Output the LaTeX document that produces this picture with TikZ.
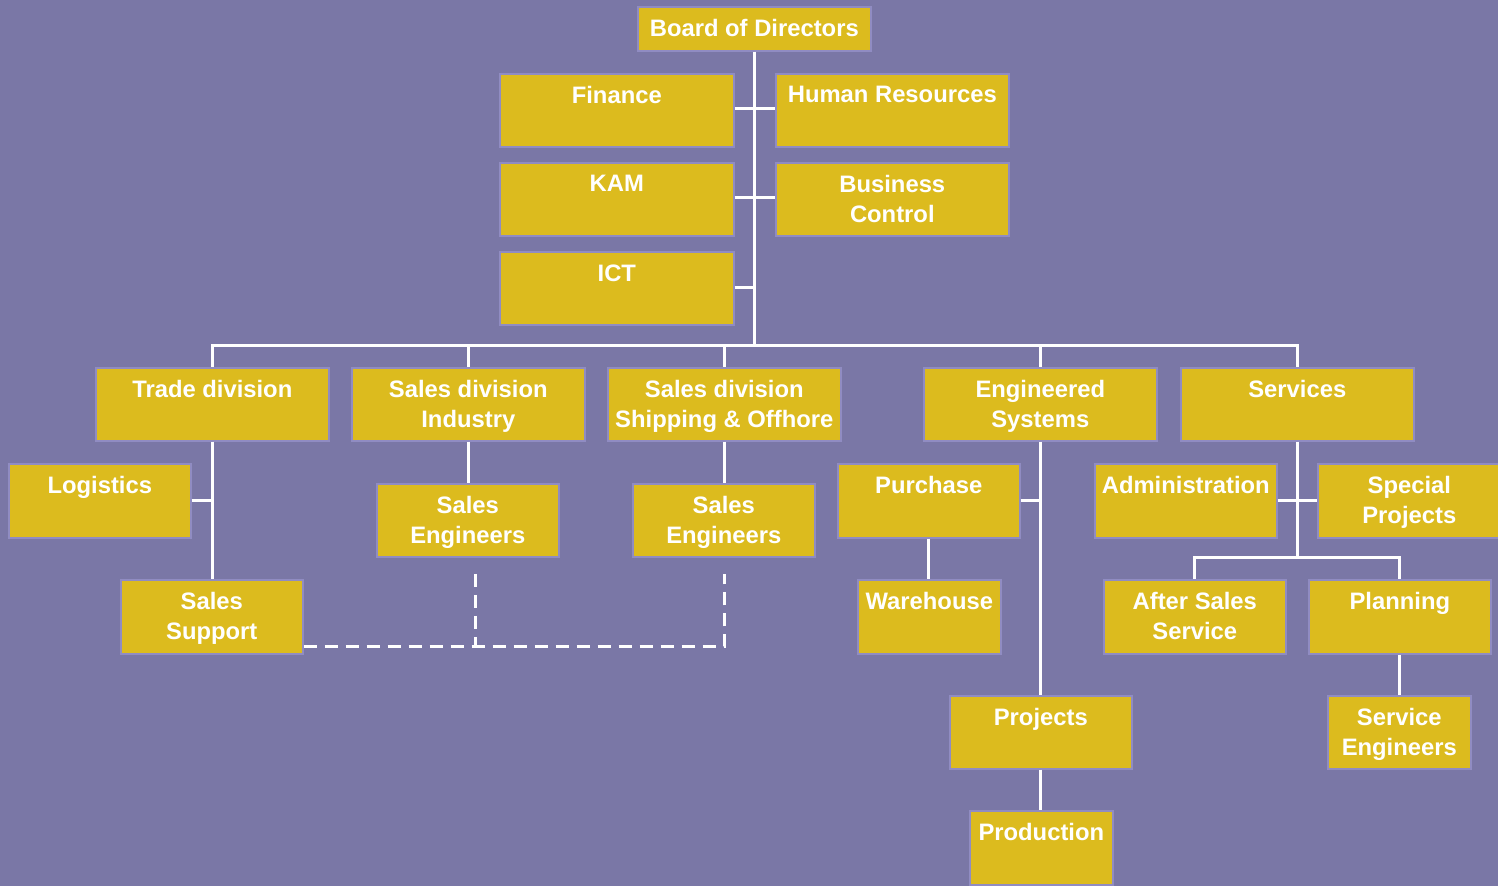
\documentclass[tikz,border=0pt]{standalone}
\usepackage{fontspec}
\setmainfont{Liberation Sans}
\definecolor{bgc}{HTML}{7A77A6}
\definecolor{boxc}{HTML}{DCBB1E}
\definecolor{edgec}{HTML}{908CC2}
\tikzset{
  box/.style={draw=edgec, line width=0.8pt, fill=boxc, inner sep=0pt, anchor=north west},
  lbl/.style={text=white, font=\fontsize{11.9}{15}\selectfont\bfseries, align=center, inner sep=0pt, anchor=north},
  link/.style={draw=white, line width=1.5pt},
  dlink/.style={draw=white, line width=1.5pt, dash pattern=on 6.5pt off 4pt}
}
\newcommand\orgbox[6]{%
  \node[box, minimum width={(#4-#2)*0.5pt}, minimum height={(#5-#3)*0.5pt}] (#1) at (#2,#3) {};
  \node[lbl] (#1-t) at ([yshift=-6.6pt]#1.north) {#6};}
\begin{document}
\begin{tikzpicture}[x=0.5pt, y=-0.5pt]
\fill[bgc] (0,0) rectangle (1498,886);
\useasboundingbox (0,0) rectangle (1498,886);
\coordinate (busc) at (753,346);
\coordinate (j1) at (753,109);
\coordinate (j2) at (753,198);
\coordinate (j3) at (753,288);
\orgbox{board}{637}{6}{870}{50}{Board of Directors}
\orgbox{fin}{499}{73}{733}{146}{Finance}
\orgbox{hr}{775}{73}{1008}{146}{Human Resources}
\orgbox{kam}{499}{162}{733}{235}{KAM}
\orgbox{bc}{775}{162}{1008}{235}{Business\\Control}
\orgbox{ict}{499}{251}{733}{324}{ICT}
\orgbox{trade}{95}{367}{328}{440}{Trade division}
\orgbox{sdi}{351}{367}{584}{440}{Sales division\\Industry}
\orgbox{sds}{607}{367}{840}{440}{Sales division\\Shipping \& Offhore}
\orgbox{eng}{923}{367}{1156}{440}{Engineered\\Systems}
\orgbox{serv}{1180}{367}{1413}{440}{Services}
\orgbox{log}{8}{463}{190}{537}{Logistics}
\orgbox{se1}{376}{483}{558}{556}{Sales\\Engineers}
\orgbox{se2}{632}{483}{814}{556}{Sales\\Engineers}
\orgbox{pur}{837}{463}{1019}{537}{Purchase}
\orgbox{adm}{1094}{463}{1276}{537}{Administration}
\orgbox{spp}{1317}{463}{1500}{537}{Special\\Projects}
\orgbox{ssup}{120}{579}{302}{653}{Sales\\Support}
\orgbox{wh}{857}{579}{1000}{653}{Warehouse}
\orgbox{ass}{1103}{579}{1285}{653}{After Sales\\Service}
\orgbox{plan}{1308}{579}{1490}{653}{Planning}
\orgbox{proj}{949}{695}{1131}{768}{Projects}
\orgbox{sen}{1327}{695}{1470}{768}{Service\\Engineers}
\orgbox{prod}{969}{810}{1112}{884}{Production}
% top connectors
\draw[link] (board.south) -- (board.south |- busc);
\draw[link] (fin.east |- j1) -- (hr.west |- j1);
\draw[link] (kam.east |- j2) -- (bc.west |- j2);
\draw[link] (ict.east |- j3) -- (board.south |- j3);
\draw[link] (trade.north) |- (busc) -| (serv.north);
\draw[link] (sdi.north |- busc) -- (sdi.north);
\draw[link] (sds.north |- busc) -- (sds.north);
\draw[link] (eng.north |- busc) -- (eng.north);
% trade
\draw[link] (trade.south) -- (trade.south |- ssup.north);
\draw[link] (log.east) -- (log.east -| trade.south);
% sales divisions
\draw[link] (sdi.south) -- (se1.north -| sdi.south);
\draw[link] (sds.south) -- (se2.north -| sds.south);
% engineered
\draw[link] (eng.south) -- (eng.south |- proj.north);
\draw[link] (pur.east) -- (pur.east -| eng.south);
\draw[link] (pur.south) -- (wh.north -| pur.south);
\draw[link] (proj.south) -- (proj.south |- prod.north);
% services
\coordinate (sj) at (1297,558);
\draw[link] (serv.south) -- (serv.south |- sj);
\draw[link] (adm.east) -- (spp.west);
\draw[link] (ass.north) |- (sj) -| (plan.north);
\draw[link] (plan.south) -- (sen.north -| plan.south);
% dashed
\coordinate (d1) at (475,574);
\coordinate (d2) at (724,574);
\coordinate (dc) at (724,647);
\draw[dlink] (ssup.east |- dc) -- (dc) -- (d2);
\draw[dlink] (d1) -- (d1 |- dc);
\end{tikzpicture}
\end{document}
